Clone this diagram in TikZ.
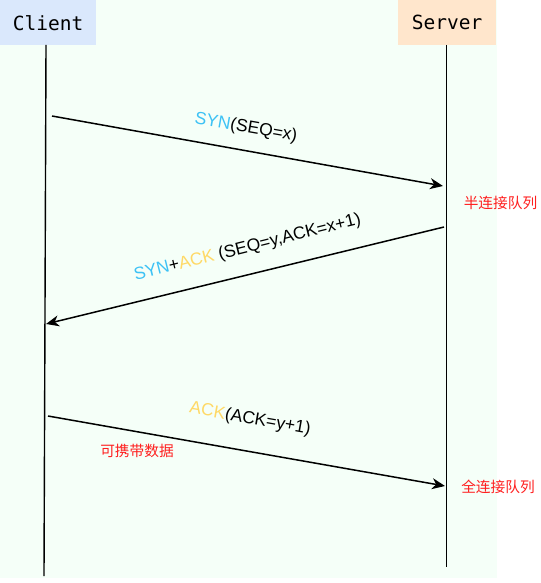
\documentclass[tikz,border=0pt]{standalone}
\usepackage{fontspec}
\setmainfont{Liberation Sans}
\newfontfamily\monofont{DejaVu Sans Mono}
\newfontfamily\cjk{Noto Sans CJK SC}
\usetikzlibrary{arrows.meta}
\definecolor{mint}{HTML}{F5FFF8}
\definecolor{cblue}{HTML}{DAE8FC}
\definecolor{speach}{HTML}{FFE6CC}
\definecolor{synblue}{HTML}{3DC2F5}
\definecolor{ackyellow}{HTML}{FFD966}
\definecolor{qred}{HTML}{FF1F1F}
\tikzset{
  actor/.style={fill=#1, minimum height=45bp, inner sep=0pt, anchor=north west,
    font=\monofont\fontsize{19.5bp}{21bp}\selectfont},
  life/.style={line width=1.4bp, black},
  msg/.style={line width=1.5bp, black, -{Stealth[length=13bp,width=11bp,inset=4bp]}},
  lbl/.style={inner sep=0pt, font=\fontsize{17.5bp}{19bp}\selectfont},
  note/.style={inner sep=0pt, text=qred, font=\cjk\fontsize{14.7bp}{16bp}\selectfont}
}
\begin{document}
\begin{tikzpicture}[x=1bp,y=-1bp]
\useasboundingbox (0,0) rectangle (541,583);
\fill[mint] (0,0) rectangle (497,578);
\node[actor=cblue, minimum width=96bp] (client) at (0,0) {Client};
\node[actor=speach, minimum width=98bp] (server) at (398,0) {Server};
\coordinate (ctop) at (46,45);
\coordinate (cbot) at (44,576);
\coordinate (stop) at (446.5,45);
\coordinate (sbot) at (446.5,567);
\draw[life] (ctop) -- (cbot);
\draw[life] (stop) -- (sbot);
% messages
\coordinate (m1s) at (52,116);
\coordinate (m1e) at (443,186);
\coordinate (m2s) at (444,227);
\coordinate (m2e) at (46,324);
\coordinate (m3s) at (48,416);
\coordinate (m3e) at (445,486);
\draw[msg] (m1s) -- (m1e);
\draw[msg] (m2s) -- (m2e);
\draw[msg] (m3s) -- (m3e);
% labels
\node[lbl, rotate=-10] (l1) at (246,128) {{\color{synblue}SYN}(SEQ=x)};
\node[lbl, rotate=14] (l2) at (247.5,248) {{\color{synblue}SYN}+{\color{ackyellow}ACK} (SEQ=y,ACK=x+1)};
\node[lbl, rotate=-10] (l3) at (250,419) {{\color{ackyellow}ACK}(ACK=y+1)};
\node[note] (n1) at (500.5,203) {半连接队列};
\node[note] (n2) at (498,487) {全连接队列};
\node[note] (n3) at (137,451) {可携带数据};
\end{tikzpicture}
\end{document}
